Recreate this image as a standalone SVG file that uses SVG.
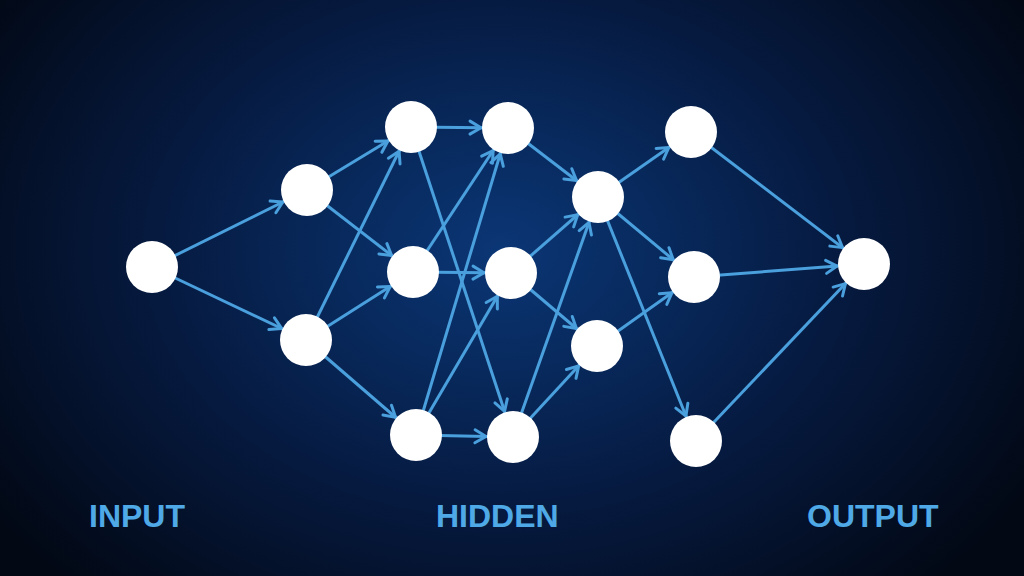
<svg xmlns="http://www.w3.org/2000/svg" width="1024" height="576" viewBox="0 0 1024 576">
<defs>
<radialGradient id="bg" cx="500" cy="250" r="620" gradientUnits="userSpaceOnUse" gradientTransform="translate(500 250) scale(1 0.75) translate(-500 -250)">
<stop offset="0" stop-color="#0b3675"/>
<stop offset="0.25" stop-color="#082a5e"/>
<stop offset="0.55" stop-color="#061a40"/>
<stop offset="1" stop-color="#020814"/>
</radialGradient>
<marker id="arr" markerUnits="userSpaceOnUse" markerWidth="20" markerHeight="20" refX="0" refY="0" orient="auto" overflow="visible">
<path d="M -38 -6.5 L -27 0 L -38 6.5" fill="none" stroke="#4a9fdd" stroke-width="3" stroke-linecap="round" stroke-linejoin="round"/>
</marker>
</defs>
<style>
.e{stroke:#4a9fdd;stroke-width:3;fill:none;marker-end:url(#arr)}
.n{fill:#ffffff}
.t{font-family:"Liberation Sans",Arial,sans-serif;font-size:32px;font-weight:bold;fill:#4fa9e6}
</style>
<rect width="1024" height="576" fill="url(#bg)"/>
<g id="connectors">
<line class="e" x1="152" y1="267" x2="307" y2="190"/>
<line class="e" x1="152" y1="267" x2="306" y2="340"/>
<line class="e" x1="307" y1="190" x2="411" y2="127"/>
<line class="e" x1="307" y1="190" x2="413" y2="272"/>
<line class="e" x1="306" y1="340" x2="411" y2="127"/>
<line class="e" x1="306" y1="340" x2="413" y2="272"/>
<line class="e" x1="306" y1="340" x2="416" y2="435"/>
<line class="e" x1="411" y1="127" x2="508" y2="128"/>
<line class="e" x1="411" y1="127" x2="513" y2="437"/>
<line class="e" x1="413" y1="272" x2="508" y2="128"/>
<line class="e" x1="413" y1="272" x2="511" y2="273"/>
<line class="e" x1="416" y1="435" x2="508" y2="128"/>
<line class="e" x1="416" y1="435" x2="511" y2="273"/>
<line class="e" x1="416" y1="435" x2="513" y2="437"/>
<line class="e" x1="508" y1="128" x2="598" y2="197"/>
<line class="e" x1="511" y1="273" x2="598" y2="197"/>
<line class="e" x1="511" y1="273" x2="597" y2="346"/>
<line class="e" x1="513" y1="437" x2="598" y2="197"/>
<line class="e" x1="513" y1="437" x2="597" y2="346"/>
<line class="e" x1="598" y1="197" x2="691" y2="132"/>
<line class="e" x1="598" y1="197" x2="694" y2="277"/>
<line class="e" x1="598" y1="197" x2="696" y2="441"/>
<line class="e" x1="597" y1="346" x2="694" y2="277"/>
<line class="e" x1="691" y1="132" x2="864" y2="264"/>
<line class="e" x1="694" y1="277" x2="864" y2="264"/>
<line class="e" x1="696" y1="441" x2="864" y2="264"/>
</g>
<g id="in0"><circle class="n" cx="152" cy="267" r="26"/></g>
<g id="a1"><circle class="n" cx="307" cy="190" r="26"/></g>
<g id="a2"><circle class="n" cx="306" cy="340" r="26"/></g>
<g id="b1"><circle class="n" cx="411" cy="127" r="26"/></g>
<g id="b2"><circle class="n" cx="413" cy="272" r="26"/></g>
<g id="b3"><circle class="n" cx="416" cy="435" r="26"/></g>
<g id="c1"><circle class="n" cx="508" cy="128" r="26"/></g>
<g id="c2"><circle class="n" cx="511" cy="273" r="26"/></g>
<g id="c3"><circle class="n" cx="513" cy="437" r="26"/></g>
<g id="d1"><circle class="n" cx="598" cy="197" r="26"/></g>
<g id="d2"><circle class="n" cx="597" cy="346" r="26"/></g>
<g id="e1"><circle class="n" cx="691" cy="132" r="26"/></g>
<g id="e2"><circle class="n" cx="694" cy="277" r="26"/></g>
<g id="e3"><circle class="n" cx="696" cy="441" r="26"/></g>
<g id="out"><circle class="n" cx="864" cy="264" r="26"/></g>
<g id="labels">
<text class="t" x="89" y="527">INPUT</text>
<text class="t" x="436" y="527">HIDDEN</text>
<text class="t" x="807" y="527">OUTPUT</text>
</g>
</svg>
